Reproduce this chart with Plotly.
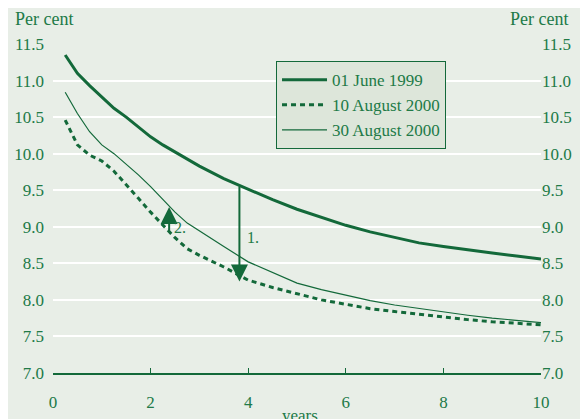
import plotly.graph_objects as go

# ---- data ----
years = [0.25, 0.5, 0.75, 1.0, 1.25, 1.5, 1.75, 2.0, 2.25, 2.5, 2.75, 3.0, 3.5,
         4.0, 4.5, 5.0, 5.5, 6.0, 6.5, 7.0, 7.5, 8.0, 8.5, 9.0, 9.5, 10.0]

june_1999 = [11.35, 11.10, 10.93, 10.78, 10.62, 10.50, 10.37, 10.23, 10.12, 10.02,
             9.92, 9.83, 9.66, 9.51, 9.37, 9.24, 9.13, 9.02, 8.93, 8.85, 8.78,
             8.73, 8.68, 8.64, 8.60, 8.56]

aug10_2000 = [10.46, 10.12, 9.98, 9.90, 9.76, 9.58, 9.39, 9.20, 9.02, 8.85, 8.70,
              8.61, 8.45, 8.27, 8.17, 8.08, 8.00, 7.94, 7.88, 7.84, 7.80, 7.76,
              7.73, 7.70, 7.68, 7.66]

aug30_2000 = [10.84, 10.55, 10.30, 10.12, 10.00, 9.86, 9.71, 9.55, 9.37, 9.20, 9.05,
              8.94, 8.73, 8.52, 8.37, 8.23, 8.14, 8.06, 7.99, 7.93, 7.88, 7.84,
              7.79, 7.75, 7.72, 7.69]

series_names = ["01 June 1999", "10 August 2000", "30 August 2000"]

x_ticks = [0, 2, 4, 6, 8, 10]
y_ticks = [7.0, 7.5, 8.0, 8.5, 9.0, 9.5, 10.0, 10.5, 11.0, 11.5]
y_ticktext = ["7.0", "7.5", "8.0", "8.5", "9.0", "9.5", "10.0", "10.5", "11.0", "11.5"]

# arrows: (x, from_y, to_y, label)
arrow1 = (3.82, 9.57, 8.25, "1.")
arrow2 = (2.38, 8.92, 9.27, "2.")

# ---- style ----
BG = "#e8eee7"
LINE = "#13693a"
TXT = "#217a47"
FONT = "Liberation Serif"

fig = go.Figure()
fig.add_trace(go.Scatter(x=years, y=june_1999, name=series_names[0], mode="lines",
                         line=dict(color=LINE, width=3)))
fig.add_trace(go.Scatter(x=years, y=aug10_2000, name=series_names[1], mode="lines",
                         line=dict(color=LINE, width=3, dash="5px,4px")))
fig.add_trace(go.Scatter(x=years, y=aug30_2000, name=series_names[2], mode="lines",
                         line=dict(color=LINE, width=1.2)))
# invisible trace to activate right axis
fig.add_trace(go.Scatter(x=[years[0]], y=[june_1999[0]], yaxis="y2", mode="lines",
                         showlegend=False, hoverinfo="skip", line=dict(width=0)))

for (ax_x, y0, y1, lab), lx, ly in [(arrow1, 3.93, 8.85), (arrow2, 2.43, 8.99)]:
    fig.add_annotation(x=ax_x, y=y1, ax=ax_x, ay=y0, xref="x", yref="y",
                       axref="x", ayref="y", text="", showarrow=True,
                       arrowhead=2, arrowsize=1.7, arrowwidth=2,
                       arrowcolor=LINE, standoff=0, startstandoff=0)
    fig.add_annotation(x=lx, y=ly, xref="x", yref="y", text=lab, showarrow=False,
                       xanchor="left", yanchor="middle",
                       font=dict(family=FONT, size=16, color=TXT))

fig.add_annotation(text="Per cent", x=-0.0826, y=1.076, xref="paper", yref="paper",
                   showarrow=False, xanchor="left", yanchor="middle",
                   font=dict(family=FONT, size=18, color=TXT))
fig.add_annotation(text="Per cent", x=1.059, y=1.076, xref="paper", yref="paper",
                   showarrow=False, xanchor="right", yanchor="middle",
                   font=dict(family=FONT, size=18, color=TXT))
fig.add_annotation(text="years", x=0.506, y=-0.094, xref="paper", yref="paper",
                   showarrow=False, xanchor="center", yanchor="top",
                   font=dict(family=FONT, size=17, color=TXT))

fig.update_layout(
    width=588, height=419,
    margin=dict(l=45, r=55, t=36, b=54, autoexpand=False),
    paper_bgcolor=BG, plot_bgcolor=BG,
    font=dict(family=FONT, size=17, color=TXT),
    showlegend=True,
    legend=dict(x=0.457, y=0.948, xanchor="left", yanchor="top",
                bgcolor="#dde6da", bordercolor=LINE, borderwidth=1,
                font=dict(family=FONT, size=17, color=TXT),
                itemwidth=45, tracegroupgap=0),
    xaxis=dict(range=[0, 10], tickvals=x_ticks, ticks="inside", ticklen=5,
               tickcolor=LINE, showline=True, linecolor=LINE, linewidth=1.5,
               showgrid=False, zeroline=False, ticklabelstandoff=13,
               automargin=False,
               tickfont=dict(family=FONT, size=17, color=TXT)),
    yaxis=dict(range=[7, 11.5], tickvals=y_ticks, ticktext=y_ticktext,
               showgrid=True, gridcolor="white", gridwidth=1.5, zeroline=False,
               showline=False, ticks="", ticklabelstandoff=8, automargin=False,
               tickfont=dict(family=FONT, size=17, color=TXT)),
    yaxis2=dict(range=[7, 11.5], tickvals=y_ticks, ticktext=y_ticktext,
                overlaying="y", side="right", showgrid=False, zeroline=False,
                showline=False, ticks="", ticklabelstandoff=0, automargin=False,
                tickfont=dict(family=FONT, size=17, color=TXT)),
)

fig.write_html("out.html")
